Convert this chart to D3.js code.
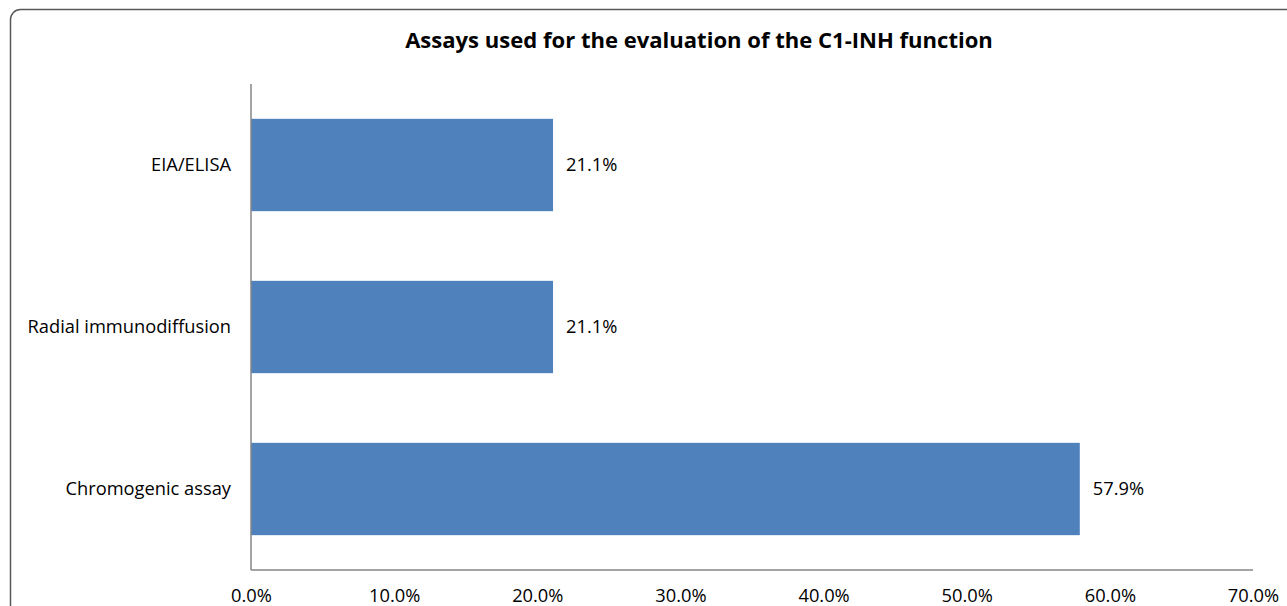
<!DOCTYPE html>
<html>
<head>
<meta charset="utf-8">
<script src="https://cdn.jsdelivr.net/npm/d3@7"></script>
<style>
  html, body { margin: 0; padding: 0; background: #fff; }
  svg { display: block; font-family: "Open Sans", "Liberation Sans", sans-serif; }
</style>
</head>
<body>
<svg id="chart" width="1287" height="606"></svg>
<script>
// chart data
var title = "Assays used for the evaluation of the C1-INH function";
var categories = ["EIA/ELISA", "Radial immunodiffusion", "Chromogenic assay"];
var values = [21.1, 21.1, 57.9];
var tickValues = [0, 10, 20, 30, 40, 50, 60, 70];

var svg = d3.select("#chart");
var fs = 18.3;

// outer frame with rounded corners (runs off the bottom/right)
svg.append("rect")
  .attr("x", 10.5).attr("y", 9.5)
  .attr("width", 1300).attr("height", 640)
  .attr("rx", 10)
  .attr("fill", "none")
  .attr("stroke", "#595959")
  .attr("stroke-width", 1.5);

var plotL = 251, plotR = 1253, plotT = 84, plotB = 570;

var x = d3.scaleLinear().domain([0, 70]).range([plotL, plotR]);
var y = d3.scaleBand().domain(categories).range([plotT, plotB])
  .paddingInner(0.43).paddingOuter(0.215);

// title
var t = svg.append("text")
  .attr("x", 699).attr("y", 48)
  .attr("text-anchor", "middle")
  .attr("font-size", 19)
  .attr("font-weight", "bold")
  .attr("fill", "#000")
  .text(title);
var tw = t.node().getComputedTextLength();
t.attr("font-size", 19 * 588 / tw);

// bars
svg.selectAll("rect.bar")
  .data(values)
  .enter().append("rect")
  .attr("class", "bar")
  .attr("x", x(0))
  .attr("y", function(d, i) { return y(categories[i]); })
  .attr("width", function(d) { return x(d) - x(0); })
  .attr("height", y.bandwidth())
  .attr("fill", "#4F81BD");

// value labels
svg.selectAll("text.val")
  .data(values)
  .enter().append("text")
  .attr("class", "val")
  .attr("x", function(d) { return x(d) + 13; })
  .attr("y", function(d, i) { return y(categories[i]) + y.bandwidth() / 2; })
  .attr("dy", "0.35em")
  .attr("font-size", fs)
  .attr("fill", "#000")
  .text(function(d) { return d.toFixed(1) + "%"; });

// y axis
var yAxis = svg.append("g")
  .attr("transform", "translate(" + plotL + ",0)")
  .call(d3.axisLeft(y).tickSize(0).tickPadding(20));
yAxis.select(".domain").attr("stroke", "#868686").attr("stroke-width", 1.5)
  .attr("d", "M0," + plotT + "V" + plotB);
yAxis.selectAll("text")
  .attr("font-size", fs)
  .attr("font-family", "'Open Sans', sans-serif")
  .attr("fill", "#000");

// x axis
var xAxis = svg.append("g")
  .attr("transform", "translate(0," + plotB + ")")
  .call(d3.axisBottom(x).tickValues(tickValues).tickSize(0).tickPadding(19)
    .tickFormat(function(d) { return d.toFixed(1) + "%"; }));
xAxis.select(".domain").attr("stroke", "#868686").attr("stroke-width", 1.5)
  .attr("d", "M" + plotL + ",0H" + plotR);
xAxis.selectAll("text")
  .attr("font-size", fs)
  .attr("font-family", "'Open Sans', sans-serif")
  .attr("fill", "#000");
</script>
</body>
</html>
